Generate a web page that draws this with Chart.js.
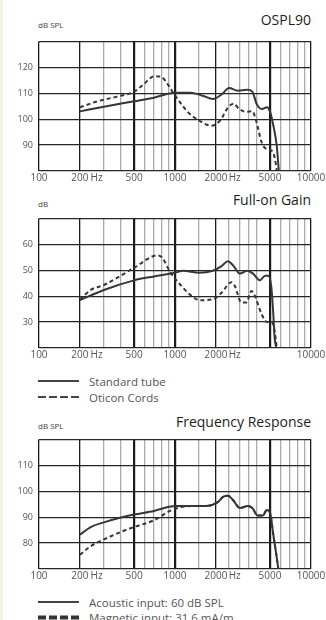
<!DOCTYPE html>
<html>
<head>
<meta charset="utf-8">
<script src="https://cdn.jsdelivr.net/npm/chart.js@4.4.1/dist/chart.umd.min.js"></script>
<style>
  body { margin: 0; background: #fff; }
  #page { position: relative; width: 326px; height: 620px; overflow: hidden; background: #fff;
          border-left: 3px solid #f6f2e4; box-sizing: border-box; font-family: 'Open Sans', sans-serif; color: #222; }
  canvas { position: absolute; left: -3px; }
  .title { position: absolute; right: 15px; font-size: 14px; line-height: 16px; color: #1e1e1e; }
  .unit { position: absolute; left: 35px; font-size: 8px; line-height: 10px; color: #444; }
  .leg { position: absolute; left: 35px; height: 14px; display: flex; align-items: center; font-size: 11.5px; color: #555; white-space: nowrap; }
  .leg svg { margin-right: 9px; }
</style>
</head>
<body>
<div id="page">
  <div class="title" style="top:12px">OSPL90</div>
  <div class="unit" style="top:20px">dB SPL</div>
  <canvas id="ospl" width="326" height="155" style="top:30px"></canvas>

  <div class="title" style="top:192px">Full-on Gain</div>
  <div class="unit" style="top:199px">dB</div>
  <canvas id="gain" width="326" height="155" style="top:207px"></canvas>
  <div class="leg" style="top:374px"><svg width="42" height="4"><line x1="0" y1="2" x2="41" y2="2" stroke="#444" stroke-width="2"/></svg>Standard tube</div>
  <div class="leg" style="top:390px"><svg width="42" height="4"><line x1="0" y1="2" x2="41" y2="2" stroke="#444" stroke-width="2" stroke-dasharray="8 3"/></svg>Oticon Cords</div>

  <div class="title" style="top:414px">Frequency Response</div>
  <div class="unit" style="top:421px">dB SPL</div>
  <canvas id="fr" width="326" height="155" style="top:428px"></canvas>
  <div class="leg" style="top:595px"><svg width="42" height="4"><line x1="0" y1="2" x2="41" y2="2" stroke="#444" stroke-width="2"/></svg>Acoustic input: 60 dB SPL</div>
  <div class="leg" style="top:610px"><svg width="42" height="5"><line x1="0" y1="2.5" x2="41" y2="2.5" stroke="#333" stroke-width="4" stroke-dasharray="8 3"/></svg>Magnetic input: 31.6 mA/m</div>
</div>

<script>
// frequency grid (Hz)
const xGrid = [100, 200, 300, 400, 500, 600, 700, 800, 900, 1000, 1500, 2000, 2500, 3000, 3500, 4000, 5000, 6000, 7000, 8000, 9000, 10000];
const hzMarks = [265, 2750];
const osplLabels = [100, 200, 500, 1000, 2000, 5000, 10000];
const gainLabels = [100, 200, 500, 1000, 2000, 10000];
const frLabels = [100, 200, 500, 1000, 2000, 5000, 10000];

// OSPL90
const osplTubeHz = [200, 300, 500, 700, 1000, 1300, 1600, 1900, 2200, 2500, 2900, 3400, 3700, 4000, 4350, 4750, 5000, 5250, 5600, 5800];
const osplTubeDb = [103, 104.8, 106.9, 108.3, 110.2, 110.2, 109, 107.8, 109.5, 112, 111, 111.3, 110.6, 105.7, 103.9, 104.6, 102.8, 98.3, 89.7, 80];
const osplCordHz = [200, 270, 374, 500, 580, 710, 800, 870, 970, 1090, 1230, 1530, 1850, 2150, 2450, 2700, 2950, 3350, 3700, 3950, 4350, 4750, 5150, 5400, 5600];
const osplCordDb = [104.6, 106.9, 108.7, 110.6, 113.2, 116.6, 116.2, 114, 110.2, 106.5, 103, 99.2, 97.5, 99.5, 104.5, 106, 104, 102.8, 103.1, 99.4, 90.8, 88.4, 87.8, 85.2, 80.4];

// Full-on gain
const gainTubeHz = [200, 300, 500, 700, 1000, 1150, 1500, 1900, 2200, 2450, 2700, 3000, 3400, 3750, 4200, 4600, 4850, 5100, 5270, 5400, 5550];
const gainTubeDb = [38.5, 42.4, 46.1, 47.6, 49, 49.8, 49, 49.8, 51.6, 53.5, 51.6, 48.7, 49.8, 48.7, 46.1, 47.9, 47.9, 43.9, 34, 24, 20];
const gainCordHz = [200, 240, 300, 500, 740, 800, 920, 1090, 1290, 1530, 1900, 2200, 2600, 2750, 3070, 3350, 3650, 3860, 4350, 4750, 5150, 5400, 5600];
const gainCordDb = [38.7, 42.4, 44.3, 50.9, 55.7, 55, 49.4, 44.5, 40.6, 38.4, 38.8, 41.3, 45.4, 44, 37.6, 37.6, 42, 40.2, 32.9, 30, 30, 26.6, 20];

// Frequency response
const frAcHz = [200, 240, 300, 400, 500, 700, 1000, 1400, 1700, 2050, 2270, 2450, 2680, 3000, 3430, 3700, 4060, 4430, 4730, 5000, 5270, 5600, 5750];
const frAcDb = [83.2, 86.2, 88, 89.9, 91, 92.4, 94.3, 94.3, 94.3, 95.7, 97.9, 98.3, 96.5, 93.5, 94.3, 93.5, 90.6, 90.6, 92.8, 91.7, 83.6, 74.4, 70];
const frMagHz = [200, 240, 300, 400, 500, 700, 920, 1100, 1400, 1700, 2050, 2270, 2450, 2680, 3000, 3430, 3700, 4060, 4430, 4730, 5000, 5270, 5600, 5750];
const frMagDb = [75.5, 78.8, 81.4, 84.3, 86.2, 88.8, 92.4, 93.8, 94.3, 94.3, 95.7, 97.9, 98.3, 96.5, 93.5, 94.3, 93.5, 90.6, 90.6, 92.8, 91.7, 83.6, 74.4, 70];

const pts = (hz, db) => hz.map((f, i) => ({ x: f, y: db[i] }));

function gridColor(v) {
  if (hzMarks.includes(v)) return 'rgba(0,0,0,0)';
  if ([100, 200, 500, 1000, 2000, 5000, 10000].includes(v)) return '#1c1c1c';
  return '#ababab';
}
function gridWidth(v) {
  if ([500, 1000, 5000].includes(v)) return 2.2;
  return 1.3;
}

function xAxis(labels) {
  return {
    type: 'logarithmic', min: 100, max: 10000,
    afterBuildTicks: s => { s.ticks = xGrid.concat(hzMarks).map(v => ({ value: v })); },
    afterFit: s => { s.height = 14; },
    grid: { drawTicks: false, color: c => gridColor(c.tick.value), lineWidth: c => gridWidth(c.tick.value) },
    border: { display: false },
    ticks: {
      autoSkip: false, maxRotation: 0, padding: 1, color: '#555',
      font: { family: 'Open Sans', size: 10 },
      callback: v => labels.includes(v) ? String(v) : (hzMarks.includes(v) ? 'Hz' : '')
    }
  };
}

function yAxis(min, max) {
  return {
    min: min, max: max,
    afterFit: s => { s.width = 39; },
    grid: { drawTicks: false, color: '#262626', lineWidth: 1.3 },
    border: { display: false },
    ticks: {
      stepSize: 10, padding: 6, color: '#555',
      font: { family: 'Open Sans', size: 9 },
      callback: v => (v === min || v === max) ? '' : v
    }
  };
}

function lineSet(hz, db, dashed) {
  return {
    data: pts(hz, db), borderColor: '#363636', borderWidth: 2,
    borderDash: dashed ? [4, 3] : [], pointRadius: 0, fill: false,
    tension: 0.4, cubicInterpolationMode: 'monotone'
  };
}

function makeChart(id, sets, labels, min, max) {
  new Chart(document.getElementById(id), {
    type: 'line',
    data: { datasets: sets },
    options: {
      responsive: false, animation: false,
      layout: { padding: { left: 0, right: 15, top: 5, bottom: 0 } },
      plugins: { legend: { display: false }, tooltip: { enabled: false } },
      scales: { x: xAxis(labels), y: yAxis(min, max) }
    }
  });
}

makeChart('ospl', [lineSet(osplTubeHz, osplTubeDb, false), lineSet(osplCordHz, osplCordDb, true)], osplLabels, 80, 130);
makeChart('gain', [lineSet(gainTubeHz, gainTubeDb, false), lineSet(gainCordHz, gainCordDb, true)], gainLabels, 20, 70);
makeChart('fr', [lineSet(frAcHz, frAcDb, false), lineSet(frMagHz, frMagDb, true)], frLabels, 70, 120);
</script>
</body>
</html>
